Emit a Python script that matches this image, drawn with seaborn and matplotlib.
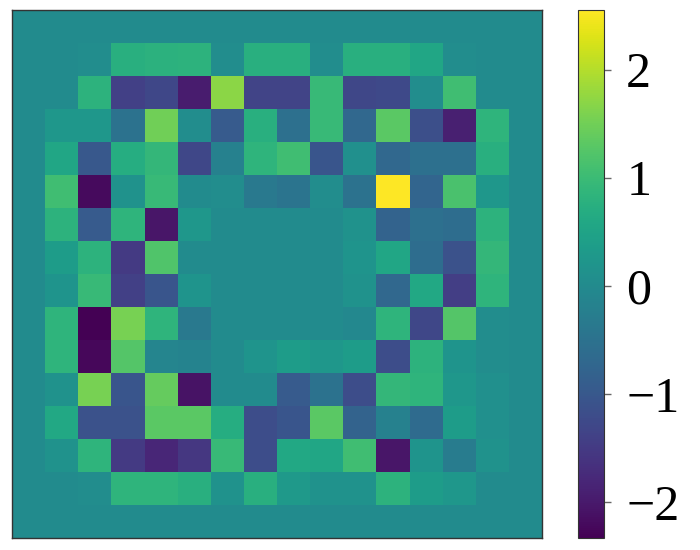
import matplotlib
matplotlib.use("Agg")
import matplotlib.pyplot as plt
import numpy as np
import seaborn as sns

row_00 = [0, 0, 0, 0, 0, 0, 0, 0, 0, 0, 0, 0, 0, 0, 0, 0]
row_01 = [0, 0, 0.05, 0.75, 0.78, 0.8, 0.05, 0.75, 0.75, 0.05, 0.75, 0.75, 0.55, 0.05, 0, 0]
row_02 = [0, 0, 0.8, -1.4, -1.3, -1.95, 1.7, -1.35, -1.35, 0.95, -1.3, -1.25, 0.05, 1.05, 0, 0]
row_03 = [0, 0.25, 0.25, -0.5, 1.5, 0.05, -0.95, 0.75, -0.55, 0.95, -0.7, 1.3, -1.15, -1.9, 0.85, 0]
row_04 = [0, 0.55, -1.0, 0.7, 0.9, -1.3, -0.2, 0.85, 1.05, -1.05, 0.1, -0.7, -0.55, -0.55, 0.75, 0]
row_05 = [0, 1.05, -2.2, 0.15, 0.95, 0.0, 0.05, -0.35, -0.45, 0.05, -0.5, 2.55, -0.75, 1.15, 0.25, 0]
row_06 = [0, 0.8, -0.95, 0.85, -2.05, 0.25, 0, 0, 0, 0, 0.15, -0.8, -0.55, -0.6, 0.8, 0]
row_07 = [0, 0.35, 0.8, -1.5, 1.2, 0, 0, 0, 0, 0, 0.2, 0.55, -0.6, -1.1, 0.9, 0]
row_08 = [0, 0.2, 0.95, -1.4, -1.05, 0.2, 0, 0, 0, 0, 0.15, -0.7, 0.6, -1.45, 0.85, 0]
row_09 = [0, 0.85, -2.33, 1.55, 0.85, -0.35, 0, 0, 0, 0, -0.05, 0.85, -1.3, 1.25, 0.05, 0]
row_10 = [0, 0.85, -2.25, 1.25, -0.1, -0.15, 0, 0.2, 0.35, 0.25, 0.35, -1.2, 0.8, 0.2, 0.05, 0]
row_11 = [0, 0.15, 1.55, -1.05, 1.4, -2.1, 0, 0, -0.95, -0.5, -1.2, 0.9, 0.85, 0.25, 0.1, 0]
row_12 = [0, 0.6, -1.1, -1.1, 1.3, 1.3, 0.7, -1.2, -1.05, 1.3, -0.8, -0.2, -0.65, 0.35, 0.1, 0]
row_13 = [0, 0.15, 0.85, -1.5, -1.8, -1.55, 0.95, -1.2, 0.6, 0.55, 1.05, -2.05, 0.2, -0.3, 0.15, 0]
row_14 = [0, 0, 0.05, 0.85, 0.85, 0.75, 0.15, 0.75, 0.3, 0.15, 0.15, 0.8, 0.35, 0.25, 0, 0]
row_15 = [0, 0, 0, 0, 0, 0, 0, 0, 0, 0, 0, 0, 0, 0, 0, 0]

cbar_ticks = [-2, -1, 0, 1, 2]

data = np.array([row_00, row_01, row_02, row_03, row_04, row_05, row_06, row_07,
                 row_08, row_09, row_10, row_11, row_12, row_13, row_14, row_15])

plt.rcParams["font.family"] = ["Liberation Serif", "DejaVu Serif"]

W, H = 700, 550
fig = plt.figure(figsize=(7, 5.5), dpi=100)
ax = fig.add_axes([12 / W, 1 - 538 / H, 530 / W, 528 / H])
cax = fig.add_axes([578 / W, 1 - 538 / H, 26 / W, 528 / H])

sns.heatmap(data, cmap="viridis", ax=ax, cbar_ax=cax, square=False,
            xticklabels=False, yticklabels=False,
            cbar_kws={"ticks": cbar_ticks})

ax.set_xticks([])
ax.set_yticks([])
for s in ax.spines.values():
    s.set_visible(True)
    s.set_color("#333333")
    s.set_linewidth(1.0)

cb = ax.collections[0].colorbar
cb.outline.set_visible(True)
cb.outline.set_linewidth(0.8)
cb.outline.set_edgecolor("#333333")
cax.tick_params(labelsize=36, length=5, width=1, color="#666666", pad=11)

fig.savefig("out.png", dpi=100)
